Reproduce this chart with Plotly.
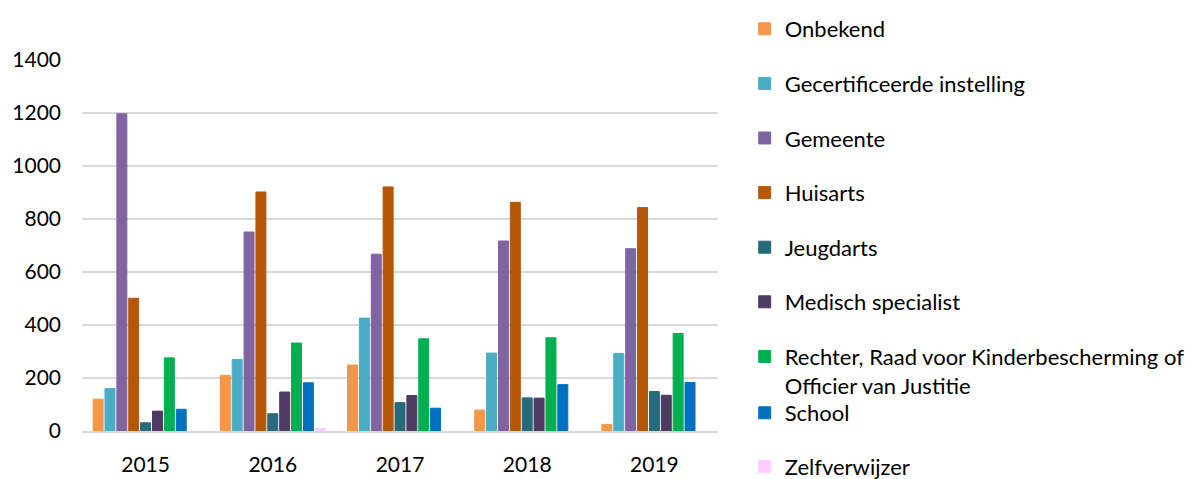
import plotly.graph_objects as go

years = ["2015", "2016", "2017", "2018", "2019"]

onbekend = [120, 210, 249, 79, 25]
gecertificeerde = [160, 270, 426, 294, 293]
gemeente = [1197, 751, 667, 717, 688]
huisarts = [501, 902, 921, 863, 843]
jeugdarts = [31, 65, 107, 125, 149]
medisch = [75, 147, 134, 124, 135]
rechter = [276, 332, 348, 352, 368]
school = [82, 182, 86, 175, 183]
zelfverwijzer = [None, 9, None, None, None]

series_names = [
    "Onbekend",
    "Gecertificeerde instelling",
    "Gemeente",
    "Huisarts",
    "Jeugdarts",
    "Medisch specialist",
    "Rechter, Raad voor Kinderbescherming of<br>Officier van Justitie",
    "School",
    "Zelfverwijzer",
]
series_values = [onbekend, gecertificeerde, gemeente, huisarts, jeugdarts,
                 medisch, rechter, school, zelfverwijzer]
colors = ["#F79646", "#4BACC6", "#8064A2", "#B65708", "#276A7C",
          "#4D3B62", "#00B050", "#0070C0", "#FFCCFF"]

FONT = "Lato, 'Open Sans', sans-serif"
W, H = 1194, 471  # page adds an 8px body margin

fig = go.Figure()
for i, (name, vals, col) in enumerate(zip(series_names, series_values, colors)):
    fig.add_trace(go.Bar(
        x=years, y=vals, name=name,
        marker=dict(color=col, line=dict(color=col, width=1)),
        legendgroup=f"g{i}",
        legend="legend" if i < 7 else "legend2",
    ))

legend_common = dict(
    font=dict(family=FONT, size=22, color="#000000"),
    bgcolor="rgba(0,0,0,0)",
    xref="container", yref="container",
    x=0.617, xanchor="left", yanchor="top",
    valign="top", maxheight=465,
    itemclick=False, itemdoubleclick=False,
)

fig.update_layout(
    width=W, height=H,
    margin=dict(l=74, r=484, t=52, b=48, autoexpand=False),
    paper_bgcolor="white", plot_bgcolor="white",
    barmode="group", bargap=0.16, bargroupgap=0.16,
    font=dict(family=FONT, size=21, color="#000000"),
    showlegend=True,
    legend=dict(**legend_common, y=1.0, tracegroupgap=23),
    legend2=dict(**legend_common, y=1 - 384 / H, tracegroupgap=22),
    xaxis=dict(
        showgrid=False, showline=True, linecolor="#D9D9D9", linewidth=1.5,
        ticks="", tickfont=dict(family=FONT, size=21), ticklabelstandoff=14,
    ),
    yaxis=dict(
        range=[0, 1400], dtick=200, showgrid=True, gridcolor="#D9D9D9",
        gridwidth=1.5, zeroline=False, showline=False, ticks="",
        tickfont=dict(family=FONT, size=21), ticklabelstandoff=20,
    ),
)

fig.write_html("out.html")
